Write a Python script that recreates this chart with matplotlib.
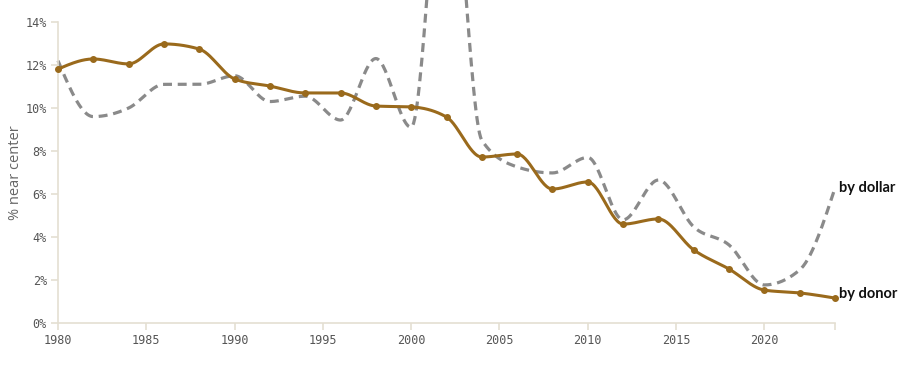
import numpy as np
import matplotlib
matplotlib.use("Agg")
import matplotlib.pyplot as plt

years = list(range(1980, 2025, 2))
by_donor = [11.81, 12.28, 12.05, 12.98, 12.74, 11.35, 11.02, 10.70, 10.70, 10.09, 10.05, 9.58,
            7.72, 7.86, 6.23, 6.56, 4.60, 4.84, 3.40, 2.51, 1.53, 1.40, 1.16]
by_dollar = [12.2, 9.6, 10.0, 11.1, 11.1, 11.5, 10.3, 10.55, 9.44, 12.3, 9.1, 23.5,
             8.5, 7.26, 6.98, 7.7, 4.8, 6.65, 4.47, 3.63, 1.77, 2.47, 6.28]
yticks = [0, 2, 4, 6, 8, 10, 12, 14]
xticks = [1980, 1985, 1990, 1995, 2000, 2005, 2010, 2015, 2020]


def monotone(x, y, n=30):
    x = np.asarray(x, float); y = np.asarray(y, float)
    h = np.diff(x); s = np.diff(y) / h
    m = np.zeros_like(y)
    for i in range(1, len(y) - 1):
        p = (s[i-1] * h[i] + s[i] * h[i-1]) / (h[i-1] + h[i])
        m[i] = (np.sign(s[i-1]) + np.sign(s[i])) * min(abs(s[i-1]), abs(s[i]), 0.5 * abs(p))
    m[0] = (3 * s[0] - m[1]) / 2
    m[-1] = (3 * s[-1] - m[-2]) / 2
    xs, ys = [], []
    for i in range(len(x) - 1):
        t = np.linspace(0, 1, n, endpoint=False)
        h00 = 2*t**3 - 3*t**2 + 1; h10 = t**3 - 2*t**2 + t
        h01 = -2*t**3 + 3*t**2; h11 = t**3 - t**2
        xs.append(x[i] + t * h[i])
        ys.append(h00*y[i] + h10*h[i]*m[i] + h01*y[i+1] + h11*h[i]*m[i+1])
    xs.append([x[-1]]); ys.append([y[-1]])
    return np.concatenate(xs), np.concatenate(ys)


fig = plt.figure(figsize=(9, 3.66), dpi=100)
ax = fig.add_axes([58/900, 43/366, 777/900, 301/366])

brown = "#9a6a1c"
gray = "#8a8a8a"

xd, yd = monotone(years, by_dollar)
ax.plot(xd, yd, color=gray, lw=2.3, ls=(0, (2.8, 1.8)), clip_on=False, zorder=2)
xb, yb = monotone(years, by_donor)
ax.plot(xb, yb, color=brown, lw=2.2, clip_on=False, zorder=3)
ax.plot(years, by_donor, 'o', color=brown, ms=4.0, clip_on=False, zorder=4)

ax.set_xlim(1980, 2024)
ax.set_ylim(0, 14)
ax.set_yticks(yticks)
ax.set_yticklabels([f"{v}%" for v in yticks])
ax.set_xticks(xticks + [2024])
ax.set_xticklabels([str(v) for v in xticks] + [""])

spine_col = "#e4dfd2"
for s in ["top", "right"]:
    ax.spines[s].set_visible(False)
for s in ["left", "bottom"]:
    ax.spines[s].set_color(spine_col)
    ax.spines[s].set_linewidth(1.2)
ax.tick_params(axis='both', colors=spine_col, length=5, width=1.2,
               labelcolor="#555555", labelsize=8.5)
for lab in ax.get_xticklabels() + ax.get_yticklabels():
    lab.set_fontfamily("DejaVu Sans Mono")
ax.tick_params(axis='x', pad=3)
ax.tick_params(axis='y', pad=3)

ax.set_ylabel("% near center", color="#666666", fontsize=10.5, fontfamily="Open Sans", labelpad=2)

ax.text(2024.25, by_dollar[-1] + 0.0, "by dollar", fontsize=10.5, fontweight="bold",
        fontfamily="Lato", color="#111111", va="center", ha="left", clip_on=False)
ax.text(2024.25, by_donor[-1] + 0.2, "by donor", fontsize=10.5, fontweight="bold",
        fontfamily="Lato", color="#111111", va="center", ha="left", clip_on=False)

fig.savefig("out.png", dpi=100)
